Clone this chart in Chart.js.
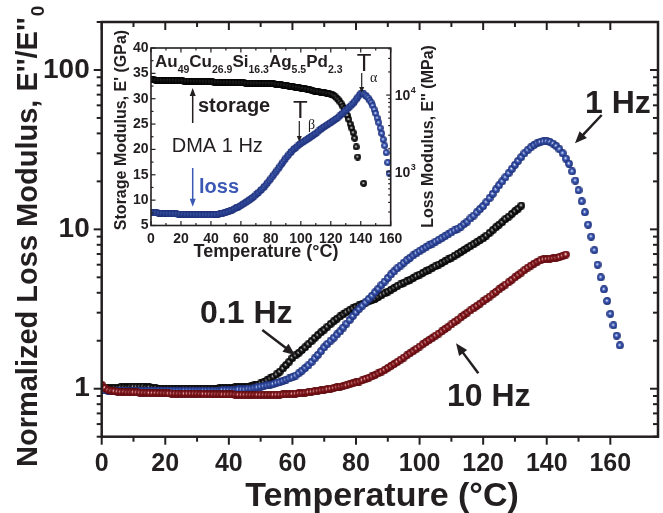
<!DOCTYPE html>
<html><head><meta charset="utf-8">
<script src="https://cdn.jsdelivr.net/npm/chart.js@4.4.1/dist/chart.umd.min.js"></script>
<style>
html,body{margin:0;padding:0;background:#fff;}
#wrap{position:relative;width:663px;height:513px;overflow:hidden;}
#main{position:absolute;left:0;top:0;}
#inset{position:absolute;left:100px;top:28px;}
</style></head><body>
<div id="wrap"><canvas id="main" width="663" height="513"></canvas><canvas id="inset" width="345" height="236"></canvas></div>
<script>
// ---------------- DATA (1 °C sampling) ----------------
// Main chart: normalized loss modulus E''/E''0 vs temperature, first value at 0 °C
const loss01Hz = [
 1.00,1.00,1.01,1.01,1.01,1.01,1.02,1.02,1.02,1.03,
 1.03,1.03,1.03,1.03,1.02,1.02,1.01,1.01,1.00,1.00,
 1.00,1.00,1.00,1.00,1.00,1.00,1.00,1.00,1.00,1.00,
 1.00,1.00,1.00,1.00,1.00,1.00,1.00,1.01,1.01,1.01,
 1.01,1.01,1.02,1.02,1.02,1.02,1.03,1.04,1.05,1.06,
 1.08,1.10,1.13,1.16,1.19,1.23,1.28,1.34,1.41,1.48,
 1.56,1.62,1.68,1.75,1.82,1.90,1.99,2.08,2.17,2.26,
 2.35,2.45,2.55,2.65,2.75,2.84,2.93,3.02,3.11,3.19,
 3.28,3.34,3.40,3.46,3.53,3.60,3.66,3.76,3.86,3.96,
 4.07,4.18,4.29,4.40,4.51,4.62,4.72,4.83,4.95,5.08,
 5.20,5.33,5.46,5.59,5.73,5.87,6.01,6.16,6.31,6.47,
 6.64,6.83,7.02,7.22,7.43,7.64,7.85,8.07,8.31,8.55,
 8.79,9.14,9.50,9.88,10.3,10.7,11.1,11.6,12.0,12.5,
 13.0,13.5,14.1
];
const loss1Hz = [
 0.98,0.98,0.97,0.97,0.97,0.97,0.97,0.97,0.97,0.97,
 0.97,0.97,0.97,0.97,0.97,0.97,0.97,0.97,0.97,0.97,
 0.97,0.97,0.97,0.97,0.97,0.97,0.97,0.97,0.97,0.97,
 0.97,0.97,0.97,0.97,0.97,0.97,0.97,0.97,0.98,0.98,
 0.98,0.98,0.98,0.99,0.99,0.99,1.00,1.00,1.01,1.02,
 1.03,1.04,1.05,1.06,1.07,1.09,1.10,1.12,1.14,1.16,
 1.18,1.21,1.25,1.30,1.35,1.40,1.47,1.55,1.63,1.72,
 1.82,1.91,2.00,2.09,2.19,2.29,2.42,2.56,2.70,2.86,
 3.02,3.17,3.32,3.48,3.65,3.83,4.03,4.24,4.47,4.70,
 4.95,5.21,5.45,5.70,5.93,6.17,6.40,6.63,6.86,7.08,
 7.30,7.51,7.72,7.94,8.15,8.37,8.59,8.81,9.06,9.31,
 9.57,9.84,10.1,10.4,10.8,11.2,11.7,12.2,12.8,13.4,
 14.0,14.8,15.7,16.7,17.8,18.9,20.0,21.2,22.5,23.9,
 25.4,26.9,28.4,30.0,31.4,32.7,33.8,34.7,35.3,35.6,
 35.7,35.3,34.5,33.3,31.8,30.0,27.8,25.8,23.1,20.2,
 17.6,15.0,12.8,10.7,9.0,7.4,6.0,5.0,4.2,3.55,
 2.95,2.5,2.15,1.87
];
const loss10Hz = [
 1.06,1.01,0.98,0.97,0.965,0.96,0.955,0.955,0.95,0.95,
 0.95,0.948,0.946,0.944,0.942,0.94,0.94,0.94,0.938,0.936,
 0.935,0.934,0.933,0.932,0.931,0.93,0.93,0.93,0.93,0.93,
 0.93,0.928,0.926,0.925,0.924,0.923,0.922,0.921,0.92,0.92,
 0.92,0.92,0.918,0.917,0.916,0.915,0.915,0.915,0.915,0.915,
 0.915,0.915,0.915,0.915,0.916,0.917,0.918,0.92,0.922,0.925,
 0.928,0.932,0.936,0.94,0.945,0.95,0.956,0.962,0.969,0.976,
 0.984,0.992,1.00,1.01,1.02,1.03,1.04,1.05,1.065,1.08,
 1.095,1.11,1.13,1.15,1.17,1.195,1.22,1.25,1.28,1.31,
 1.35,1.39,1.43,1.47,1.52,1.57,1.62,1.67,1.72,1.78,
 1.84,1.90,1.96,2.02,2.08,2.15,2.22,2.29,2.37,2.45,
 2.53,2.62,2.71,2.80,2.90,3.00,3.10,3.20,3.31,3.42,
 3.53,3.65,3.78,3.91,4.05,4.20,4.35,4.50,4.65,4.82,
 5.00,5.18,5.36,5.55,5.75,5.93,6.10,6.25,6.38,6.47,
 6.52,6.55,6.58,6.62,6.70,6.82,6.95
];
// Inset: storage modulus E' (GPa) and loss modulus E'' (MPa) at 1 Hz, first value at 0 °C
const storageGPa = [
 33.7,33.7,33.7,33.65,33.65,33.65,33.65,33.65,33.6,33.6,
 33.6,33.6,33.6,33.55,33.55,33.55,33.55,33.5,33.5,33.5,
 33.5,33.5,33.45,33.45,33.45,33.45,33.45,33.4,33.4,33.4,
 33.4,33.4,33.35,33.35,33.35,33.35,33.35,33.3,33.3,33.3,
 33.3,33.3,33.25,33.25,33.25,33.25,33.25,33.2,33.2,33.2,
 33.2,33.2,33.15,33.15,33.15,33.15,33.15,33.1,33.1,33.1,
 33.1,33.1,33.1,33.05,33.05,33.05,33.05,33.05,33.05,33.05,
 33.05,33.05,33.0,33.0,33.0,33.0,33.0,33.0,33.0,33.0,
 33.0,32.96,32.92,32.88,32.84,32.8,32.76,32.72,32.68,32.64,
 32.6,32.55,32.5,32.45,32.4,32.35,32.3,32.25,32.2,32.15,
 32.1,32.05,32.0,31.95,31.9,31.85,31.8,31.7,31.6,31.5,
 31.45,31.4,31.35,31.3,31.25,31.2,31.15,31.1,31.05,31.0,
 30.9,30.8,30.6,30.4,30.1,29.8,29.4,29.0,28.5,28.0,
 27.4,26.7,25.9,25.0,24.2,23.3,22.2,20.5,18.5,
 null,null,null,13.3
];
const lossMPa = [
 295,294,293,292,291,290,289,288,288,287,
 287,286,285,285,284,284,283,283,282,282,
 282,281,281,280,279,279,278,278,277,277,
 276,276,276,275,275,275,275,275,275,275,
 275,276,277,278,279,282,284,287,290,292,
 295,300,306,312,318,324,331,339,347,355,
 363,373,383,394,405,417,431,446,463,482,
 501,522,544,568,592,617,652,689,728,769,
 813,863,916,973,1033,1096,1169,1247,1330,1419,
 1514,1592,1675,1762,1854,1950,2023,2099,2178,2259,
 2344,2410,2477,2547,2618,2692,2780,2871,2965,3062,
 3162,3281,3404,3532,3664,3802,3908,4018,4130,4246,
 4365,4508,4656,4808,4966,5129,5346,5572,5808,6053,
 6310,6577,6855,7145,7447,7762,8260,8790,9333,9886,
 10471,10593,10351,10000,9550,9120,8511,7943,7244,6457,
 5754,5012,4365,3715,3162,2630,2188,1778,1318,955
];
const mainXTicks = [0,20,40,60,80,100,120,140,160];
const mainYTicks = [1,10,100];
const insetXTicks = [0,20,40,60,80,100,120,140,160];
const insetYTicks = [5,10,15,20,25,30,35,40];
const insetY2Ticks = [1000,10000];
const T_START = 0, T_STEP = 1;

// ---------------- helpers ----------------
const FONT = '"Liberation Sans", Arial, Helvetica, sans-serif';
const INK = '#231f20';
function toXY(vals){ const out=[]; vals.forEach((v,i)=>{ if(v!==null) out.push({x:T_START+i*T_STEP, y:v}); }); return out; }
function sphere(color, dark, light, d){
  const c=document.createElement('canvas'); c.width=c.height=d;
  const g=c.getContext('2d'); const r=d/2;
  const gr=g.createRadialGradient(r-d*0.06,r-d*0.08,0,r,r,r);
  gr.addColorStop(0,'#ffffff'); gr.addColorStop(0.16,light); gr.addColorStop(0.42,color); gr.addColorStop(1,dark);
  g.fillStyle=gr; g.beginPath(); g.arc(r,r,r-0.1,0,Math.PI*2); g.fill();
  return c;
}
function line(ctx,x1,y1,x2,y2){ ctx.beginPath(); ctx.moveTo(x1,y1); ctx.lineTo(x2,y2); ctx.stroke(); }
function arrow(ctx,x1,y1,x2,y2,lw,hl,hw,color){
  const a=Math.atan2(y2-y1,x2-x1);
  ctx.save(); ctx.strokeStyle=color; ctx.fillStyle=color; ctx.lineWidth=lw;
  const bx=x2-hl*Math.cos(a), by=y2-hl*Math.sin(a);
  line(ctx,x1,y1,bx+Math.cos(a),by+Math.sin(a));
  ctx.beginPath(); ctx.moveTo(x2,y2);
  ctx.lineTo(bx+hw/2*Math.sin(a), by-hw/2*Math.cos(a));
  ctx.lineTo(bx-hw/2*Math.sin(a), by+hw/2*Math.cos(a));
  ctx.closePath(); ctx.fill(); ctx.restore();
}
function isDecade(v){ const l=Math.log10(v); return Math.abs(l-Math.round(l))<1e-6; }
function isMant(v){ const e=Math.floor(Math.log10(v)+1e-9); const m=v/Math.pow(10,e); return Math.abs(m-Math.round(m))<1e-6; }

const BLUE='#3a58b4', BLUE_D='#1a2a70', BLUE_L='#b8c6ee';
const RED='#921a20', RED_D='#55080c', RED_L='#e6b8ba';
const BLK='#1e1e1e', BLK_D='#000000', BLK_L='#bdbdbd';

// ---------------- MAIN CHART ----------------
const mainDeco = {
  id:'mainDeco',
  afterDraw(chart){
    const ctx=chart.ctx, a=chart.chartArea, xs=chart.scales.x, ys=chart.scales.y;
    ctx.save();
    ctx.strokeStyle=INK; ctx.lineWidth=2.5;
    ctx.strokeRect(a.left,a.top,a.right-a.left,a.bottom-a.top);
    ctx.lineWidth=2;
    xs.ticks.forEach(t=>{ if(t.value%10!==0) return; const p=xs.getPixelForValue(t.value);
      const L=(t.value%20===0)?8:5; line(ctx,p,a.bottom,p,a.bottom+L); line(ctx,p,a.top,p,a.top+L); });
    ys.ticks.forEach(t=>{ if(!isMant(t.value)) return; const p=ys.getPixelForValue(t.value);
      if(p<a.top-0.5||p>a.bottom+0.5) return;
      const L=isDecade(t.value)?8:5; line(ctx,a.left-L,p,a.left,p); line(ctx,a.right-L,p,a.right,p); });
    // axis titles
    ctx.fillStyle=INK;
    ctx.font='bold 34px '+FONT; ctx.textAlign='center'; ctx.textBaseline='alphabetic';
    ctx.fillText('Temperature (°C)', 382, 506);
    ctx.save(); ctx.translate(36.5,467); ctx.rotate(-Math.PI/2);
    ctx.font='bold 29px '+FONT; ctx.textAlign='left';
    const yt="Normalized Loss Modulus, E''/E''"; ctx.fillText(yt,0,0);
    const w=ctx.measureText(yt).width; ctx.font='bold 19px '+FONT; ctx.fillText('0',w+1,7);
    ctx.restore();
    // annotations
    ctx.font='bold 32px '+FONT; ctx.textAlign='left';
    ctx.fillText('1 Hz',585,113);
    ctx.fillText('0.1 Hz',200,323);
    ctx.fillText('10 Hz',447,406);
    arrow(ctx,601.7,115,575,143.3,2.5,12,10,INK);
    arrow(ctx,262.3,330,295,355,2.5,12,10,INK);
    arrow(ctx,478.3,373.3,456,343.3,2.5,12,10,INK);
    ctx.restore();
  }
};
new Chart(document.getElementById('main'),{
  type:'scatter',
  data:{datasets:[
    {label:'10 Hz', data:toXY(loss10Hz), pointStyle:sphere(RED,RED_D,RED_L,8), pointRadius:4, showLine:false},
    {label:'1 Hz', data:toXY(loss1Hz), pointStyle:sphere(BLUE,BLUE_D,BLUE_L,8), pointRadius:4, showLine:false},
    {label:'0.1 Hz', data:toXY(loss01Hz), pointStyle:sphere(BLK,BLK_D,BLK_L,8), pointRadius:4, showLine:false}
  ]},
  options:{
    responsive:false, animation:false, devicePixelRatio:1,
    layout:{padding:{left:0,right:1,top:22,bottom:0}},
    plugins:{legend:{display:false},tooltip:{enabled:false}},
    scales:{
      x:{type:'linear',min:0,max:175,position:'bottom',
        grid:{display:false,drawTicks:false},border:{display:false},
        ticks:{stepSize:10,autoSkip:false,maxRotation:0,padding:12,color:INK,font:{family:FONT,size:25,weight:'bold'},
          callback:v=>mainXTicks.includes(v)?String(v):''},
        afterFit:s=>{s.height=76.3; s.paddingLeft=0; s.paddingRight=0;}},
      y:{type:'logarithmic',min:0.5,max:200,position:'left',
        grid:{display:false,drawTicks:false},border:{display:false},
        ticks:{autoSkip:false,padding:12,color:INK,font:{family:FONT,size:28,weight:'bold'},
          callback:v=>mainYTicks.some(t=>Math.abs(t-v)<1e-9)?String(v):''},
        afterFit:s=>{s.width=101.7; s.paddingTop=0; s.paddingBottom=0;}}
    }
  },
  plugins:[mainDeco]
});

// ---------------- INSET CHART ----------------
const insetDeco = {
  id:'insetDeco',
  afterDraw(chart){
    const ctx=chart.ctx, a=chart.chartArea, xs=chart.scales.x, ys=chart.scales.y, y2=chart.scales.y2;
    ctx.save();
    ctx.strokeStyle=INK; ctx.lineWidth=1.6;
    ctx.strokeRect(a.left,a.top,a.right-a.left,a.bottom-a.top);
    ctx.lineWidth=1.2;
    xs.ticks.forEach(t=>{ if(t.value%10!==0) return; const p=xs.getPixelForValue(t.value);
      const L=(t.value%20===0)?4.5:2.5; line(ctx,p,a.bottom,p,a.bottom-L); line(ctx,p,a.top,p,a.top+L); });
    ys.ticks.forEach(t=>{ const p=ys.getPixelForValue(t.value);
      const L=(Math.abs(t.value%5)<1e-6)?4.5:2.5; line(ctx,a.left,p,a.left+L,p); });
    y2.ticks.forEach(t=>{ if(!isMant(t.value)) return; const p=y2.getPixelForValue(t.value);
      if(p<a.top-0.5||p>a.bottom+0.5) return;
      const L=isDecade(t.value)?4.5:2.5; line(ctx,a.right-L,p,a.right,p); });
    ctx.fillStyle=INK; ctx.textBaseline='alphabetic';
    // right tick labels with superscripts
    insetY2Ticks.forEach(v=>{ const p=y2.getPixelForValue(v);
      ctx.font='bold 14px '+FONT; ctx.textAlign='left'; ctx.fillText('10',a.right+4,p+5);
      const w=ctx.measureText('10').width; ctx.font='bold 9px '+FONT; ctx.fillText(String(Math.round(Math.log10(v))),a.right+4+w+0.5,p-2); });
    // axis titles
    ctx.font='bold 18px '+FONT; ctx.textAlign='center';
    ctx.fillText('Temperature (°C)',166,229);
    ctx.save(); ctx.translate(25.5,102); ctx.rotate(-Math.PI/2);
    ctx.font='bold 16px '+FONT; ctx.fillText("Storage Modulus, E' (GPa)",0,0); ctx.restore();
    ctx.save(); ctx.translate(333,108.5); ctx.rotate(-Math.PI/2);
    ctx.font='bold 16px '+FONT; ctx.fillText("Loss Modulus, E'' (MPa)",0,0); ctx.restore();
    // alloy formula
    ctx.textAlign='left';
    let x=55; const yb=38.7;
    [['Au','49'],['Cu','26.9'],['Si','16.3'],['Ag','5.5'],['Pd','2.3']].forEach(([el,sub])=>{
      ctx.font='bold 17px '+FONT; ctx.fillText(el,x,yb); x+=ctx.measureText(el).width;
      ctx.font='bold 10.5px '+FONT; ctx.fillText(sub,x,yb+6.5); x+=ctx.measureText(sub).width; });
    ctx.font='bold 20px '+FONT; ctx.fillText('storage',98,83.7);
    arrow(ctx,92.7,95,92.7,60,1.5,8,6,INK);
    ctx.font='20px '+FONT; ctx.fillText('DMA 1 Hz',71.7,123.7);
    ctx.fillStyle=BLUE; ctx.font='bold 20px '+FONT; ctx.fillText('loss',99,165.3);
    arrow(ctx,92.7,140,92.7,178.7,1.5,8,6,BLUE);
    ctx.fillStyle=INK;
    ctx.font='24px '+FONT; ctx.fillText('T',193,89.5);
    ctx.font='14px "Liberation Serif", "DejaVu Serif", serif'; ctx.fillText('β',208,101);
    arrow(ctx,199.3,93,199.3,114,1.2,6,5,INK);
    ctx.font='24px '+FONT; ctx.fillText('T',256.7,42.5);
    ctx.font='14px "Liberation Serif", "DejaVu Serif", serif'; ctx.fillText('α',270,54);
    arrow(ctx,261.7,45,261.7,65,1.2,6,5,INK);
    ctx.restore();
  }
};
new Chart(document.getElementById('inset'),{
  type:'scatter',
  data:{datasets:[
    {label:'loss', data:toXY(lossMPa), yAxisID:'y2', pointStyle:sphere(BLUE,BLUE_D,BLUE_L,7), pointRadius:3.5, showLine:false},
    {label:'storage', data:toXY(storageGPa), yAxisID:'y', pointStyle:sphere(BLK,BLK_D,BLK_L,7), pointRadius:3.5, showLine:false}
  ]},
  options:{
    responsive:false, animation:false, devicePixelRatio:1,
    layout:{padding:{left:0,right:0,top:20,bottom:0}},
    plugins:{legend:{display:false},tooltip:{enabled:false}},
    scales:{
      x:{type:'linear',min:0,max:160,position:'bottom',
        grid:{display:false,drawTicks:false},border:{display:false},
        ticks:{stepSize:10,autoSkip:false,maxRotation:0,padding:5,color:INK,font:{family:FONT,size:14,weight:'bold'},
          callback:v=>insetXTicks.includes(v)?String(v):''},
        afterFit:s=>{s.height=38.5; s.paddingLeft=0; s.paddingRight=0;}},
      y:{type:'linear',min:5,max:40,position:'left',
        grid:{display:false,drawTicks:false},border:{display:false},
        ticks:{stepSize:2.5,autoSkip:false,padding:2.5,color:INK,font:{family:FONT,size:14,weight:'bold'},
          callback:v=>insetYTicks.includes(v)?String(v):''},
        afterFit:s=>{s.width=51; s.paddingTop=0; s.paddingBottom=0;}},
      y2:{type:'logarithmic',min:200,max:41000,position:'right',
        grid:{display:false,drawTicks:false},border:{display:false},
        ticks:{display:false,autoSkip:false},
        afterFit:s=>{s.width=54.3; s.paddingTop=0; s.paddingBottom=0;}}
    }
  },
  plugins:[insetDeco]
});
</script>
</body></html>
